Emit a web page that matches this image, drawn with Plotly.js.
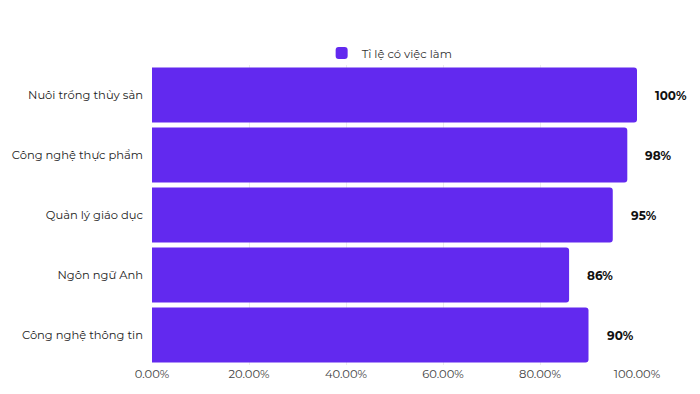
<!DOCTYPE html>
<html>
<head>
<meta charset="utf-8">
<script src="https://cdn.plot.ly/plotly-3.0.1.min.js"></script>
<style>html,body{margin:0;padding:0;background:#fff;}#chart{width:700px;height:394px;}</style>
</head>
<body>
<div id="chart"></div>
<script>
const categories = ["Nuôi trồng thủy sản", "Công nghệ thực phẩm", "Quản lý giáo dục", "Ngôn ngữ Anh", "Công nghệ thông tin"];
const values = [1.00, 0.98, 0.95, 0.86, 0.90];
const valueLabels = ["100%", "98%", "95%", "86%", "90%"];
const xTicks = [0, 0.2, 0.4, 0.6, 0.8, 1.0];
const xTickLabels = ["0.00%", "20.00%", "40.00%", "60.00%", "80.00%", "100.00%"];
const seriesName = "Tỉ lệ có việc làm";

const FONT = "Montserrat, Inter, 'Noto Sans', sans-serif";
const barColor = "#6229ef";

const trace = {
  type: "bar",
  orientation: "h",
  y: categories,
  x: values,
  name: seriesName,
  marker: {color: barColor, cornerradius: 3, line: {width: 0}},
  hoverinfo: "x+y",
  showlegend: true
};

const annotations = categories.map((c, i) => ({
  x: values[i], y: c, xref: "x", yref: "y",
  text: "<b>" + valueLabels[i] + "</b>",
  showarrow: false, xanchor: "left", xshift: 16,
  font: {family: FONT, size: 12, color: "#111"}
}));

const layout = {
  width: 700, height: 394,
  margin: {l: 152, r: 63, t: 65, b: 29},
  paper_bgcolor: "#fff", plot_bgcolor: "#fff",
  font: {family: FONT, size: 11.5, color: "#333"},
  bargap: 0.08,
  showlegend: true,
  legend: {orientation: "h", x: 0.49, xanchor: "center", y: 1.04, yanchor: "middle",
           bgcolor: "rgba(0,0,0,0)",
           font: {family: FONT, size: 11.5, color: "#333"}, itemwidth: 30},
  xaxis: {
    range: [0, 1.0], tickvals: xTicks, ticktext: xTickLabels,
    showgrid: true, gridcolor: "#ececec", gridwidth: 1,
    zeroline: false, showline: false, ticks: "",
    tickfont: {family: FONT, size: 11.5, color: "#444"}
  },
  yaxis: {
    autorange: "reversed", showgrid: false, zeroline: false, showline: false,
    ticks: "", ticklabelstandoff: 8,
    tickfont: {family: FONT, size: 11.5, color: "#222"}
  },
  annotations: annotations
};

Plotly.newPlot("chart", [trace], layout, {displayModeBar: false, staticPlot: true});
</script>
</body>
</html>
